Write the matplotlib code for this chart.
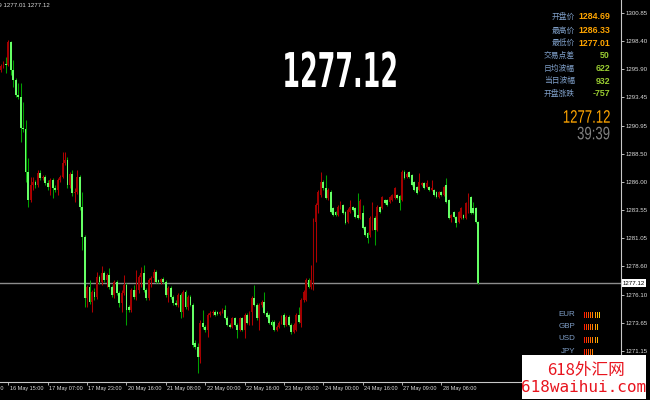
import matplotlib
matplotlib.use("Agg")
import matplotlib.pyplot as plt
from matplotlib.patheffects import AbstractPathEffect
from matplotlib.transforms import Affine2D
from matplotlib.patches import Rectangle

# ---------------- data (XAUUSD H1 candles) ----------------
O = [1295.85,1296.20,1296.38,1296.29,1298.31,1295.85,1294.97,1293.65,1293.48,1290.75,
     1290.66,1286.89,1284.43,1285.74,1286.01,1285.74,1286.80,1286.36,1286.45,1285.92,
     1285.57,1286.18,1285.48,1285.30,1286.18,1286.45,1287.68,1287.94,1285.74,1286.71,
     1285.04,1285.13,1286.45,1283.81,1281.17,1275.81,1276.78,1275.46,1276.34,1275.90,
     1277.66,1277.22,1278.01,1277.40,1277.84,1276.78,1276.08,1277.22,1276.25,1275.38,
     1276.25,1276.96,1275.02,1274.76,1276.52,1275.90,1276.52,1277.66,1278.01,1276.52,
     1275.81,1277.40,1277.57,1278.10,1277.40,1277.22,1277.48,1277.22,1276.08,1276.69,
     1275.90,1275.38,1275.20,1276.08,1274.58,1276.34,1275.02,1275.90,1275.20,1271.86,
     1271.51,1270.63,1273.62,1273.27,1273.00,1274.32,1274.50,1274.58,1274.58,1274.41,
     1274.58,1274.76,1274.06,1273.44,1273.27,1274.06,1273.44,1273.00,1274.06,1273.00,
     1274.32,1273.62,1274.58,1275.81,1275.20,1274.06,1275.20,1275.46,1274.50,1274.32,
     1273.71,1273.71,1273.00,1273.27,1273.62,1274.32,1273.44,1274.14,1273.44,1272.83,
     1273.00,1274.32,1273.62,1275.64,1275.64,1277.40,1276.78,1277.40,1282.49,1283.99,
     1284.87,1286.01,1285.48,1284.60,1285.13,1283.72,1283.37,1283.11,1283.72,1283.99,
     1283.37,1282.49,1283.37,1283.81,1283.72,1283.11,1282.84,1283.28,1282.05,1281.53,
     1281.35,1282.49,1282.84,1281.79,1283.81,1283.72,1284.43,1284.43,1284.25,1284.43,
     1284.60,1284.87,1284.78,1284.43,1286.89,1286.45,1286.89,1286.62,1286.01,1285.57,
     1285.30,1285.74,1285.92,1285.57,1285.57,1285.30,1285.30,1285.13,1284.69,1285.13,
     1284.87,1285.74,1284.43,1282.84,1283.37,1282.93,1282.49,1282.84,1283.11,1282.84,
     1283.37,1284.69,1283.72,1283.72,1282.49]
H = [1296.38,1296.64,1296.99,1298.49,1298.40,1296.73,1295.15,1294.71,1294.71,1293.04,
     1291.46,1288.12,1286.45,1286.45,1286.18,1287.06,1287.06,1286.62,1286.62,1286.18,
     1286.36,1286.36,1285.74,1286.36,1286.62,1288.64,1288.64,1288.20,1286.89,1287.06,
     1285.48,1287.06,1286.62,1285.13,1281.35,1276.96,1277.40,1276.52,1276.69,1278.10,
     1277.84,1278.63,1278.19,1278.01,1278.45,1276.96,1277.40,1277.40,1276.43,1276.52,
     1277.84,1277.13,1275.20,1276.69,1276.96,1278.28,1277.84,1278.54,1278.71,1276.69,
     1277.57,1277.75,1278.36,1278.28,1277.48,1277.57,1277.66,1277.40,1276.87,1276.87,
     1276.08,1275.64,1276.25,1276.25,1276.52,1276.52,1276.08,1276.08,1275.38,1272.12,
     1271.86,1273.88,1274.76,1273.44,1274.50,1274.67,1274.76,1274.76,1274.67,1274.67,
     1274.94,1275.20,1274.23,1273.62,1274.14,1274.14,1273.62,1274.14,1274.14,1274.50,
     1274.50,1274.67,1275.99,1276.96,1275.38,1275.38,1275.64,1276.34,1274.67,1274.50,
     1273.88,1273.88,1273.44,1273.79,1274.32,1274.50,1274.32,1274.32,1273.62,1273.62,
     1274.50,1275.02,1275.81,1276.52,1277.57,1277.57,1278.71,1282.84,1284.16,1285.30,
     1286.89,1286.18,1286.62,1285.48,1285.30,1283.81,1283.46,1283.99,1284.34,1284.07,
     1283.46,1283.72,1284.43,1283.90,1283.81,1285.04,1284.51,1283.99,1282.14,1281.61,
     1283.02,1284.25,1283.02,1283.99,1283.90,1284.78,1284.51,1284.51,1284.78,1284.95,
     1285.57,1284.95,1284.87,1287.06,1287.06,1286.89,1286.97,1286.71,1286.10,1285.66,
     1286.80,1286.01,1286.01,1286.18,1285.66,1286.18,1285.39,1285.22,1285.22,1285.22,
     1285.66,1286.36,1284.51,1283.20,1283.46,1283.02,1283.46,1283.81,1283.20,1284.25,
     1285.04,1284.78,1284.25,1283.81,1282.58]
L = [1295.67,1296.02,1295.59,1296.20,1295.41,1294.36,1293.48,1293.30,1289.52,1290.40,
     1286.01,1283.81,1284.25,1285.30,1285.48,1285.57,1286.18,1286.18,1285.74,1285.30,
     1284.87,1284.60,1285.13,1284.87,1286.01,1286.36,1287.50,1285.48,1285.48,1284.78,
     1284.25,1284.95,1283.55,1280.03,1275.02,1275.02,1275.29,1274.58,1275.64,1275.73,
     1277.04,1276.96,1277.22,1276.78,1276.61,1275.90,1275.81,1276.08,1275.02,1274.58,
     1276.08,1273.44,1274.58,1274.58,1275.73,1275.64,1276.25,1276.78,1276.34,1275.64,
     1275.64,1276.78,1277.22,1277.13,1277.13,1277.04,1277.13,1275.90,1275.46,1275.73,
     1275.20,1275.11,1275.02,1274.06,1274.14,1274.85,1274.76,1275.11,1271.51,1271.33,
     1269.22,1270.10,1273.09,1272.83,1272.39,1274.14,1274.32,1274.23,1274.32,1274.32,
     1274.50,1273.97,1273.35,1273.18,1273.18,1273.35,1272.30,1272.91,1272.91,1272.30,
     1273.53,1273.44,1273.44,1275.11,1273.88,1273.00,1275.02,1274.41,1274.06,1273.53,
     1273.35,1272.91,1272.91,1273.18,1273.53,1273.27,1273.35,1273.35,1272.65,1272.74,
     1272.91,1273.62,1273.27,1275.46,1275.55,1276.69,1276.61,1276.52,1278.98,1283.28,
     1284.69,1285.30,1284.51,1284.43,1283.28,1283.02,1283.02,1283.02,1283.63,1283.20,
     1282.32,1282.40,1283.28,1283.46,1282.84,1282.76,1282.76,1281.88,1281.26,1280.65,
     1281.17,1281.79,1280.47,1281.70,1283.28,1283.63,1284.07,1283.90,1284.16,1284.34,
     1284.51,1284.51,1283.55,1284.34,1286.27,1286.36,1286.36,1285.66,1285.22,1284.95,
     1285.22,1285.66,1285.39,1285.48,1285.22,1285.22,1284.78,1284.60,1284.60,1284.78,
     1284.78,1284.16,1282.76,1282.49,1282.84,1282.05,1282.40,1282.76,1282.76,1282.76,
     1283.28,1283.20,1283.20,1282.40,1277.01]
C = [1296.20,1296.38,1296.29,1298.31,1295.85,1294.97,1293.65,1293.48,1290.75,1290.66,
     1286.89,1284.43,1285.74,1286.01,1285.74,1286.80,1286.36,1286.45,1285.92,1285.57,
     1286.18,1285.48,1285.30,1286.18,1286.45,1287.68,1287.94,1285.74,1286.71,1285.04,
     1285.13,1286.45,1283.81,1281.17,1275.81,1276.78,1275.46,1276.34,1275.90,1277.66,
     1277.22,1278.01,1277.40,1277.84,1276.78,1276.08,1277.22,1276.25,1275.38,1276.25,
     1276.96,1274.76,1274.76,1276.52,1275.90,1276.52,1277.66,1278.01,1276.52,1275.81,
     1277.40,1277.57,1278.10,1277.22,1277.22,1277.48,1277.22,1276.08,1276.69,1275.90,
     1275.38,1275.20,1276.08,1274.58,1276.34,1275.02,1275.90,1275.20,1271.68,1271.51,
     1270.63,1273.62,1273.27,1273.00,1274.32,1274.50,1274.58,1274.32,1274.41,1274.58,
     1274.76,1274.06,1273.44,1273.27,1274.06,1273.44,1273.00,1274.06,1273.00,1274.32,
     1273.62,1274.58,1275.81,1275.20,1274.06,1275.20,1275.46,1274.50,1274.14,1273.62,
     1273.44,1273.00,1273.27,1273.62,1274.14,1273.44,1274.14,1273.44,1272.83,1273.44,
     1274.32,1273.71,1275.64,1276.34,1277.40,1276.78,1277.40,1282.49,1283.99,1285.13,
     1286.01,1285.48,1284.60,1285.30,1283.37,1283.11,1283.11,1283.81,1284.16,1283.28,
     1282.40,1283.55,1283.81,1283.55,1282.93,1282.84,1284.34,1281.97,1281.35,1281.09,
     1282.84,1283.99,1281.79,1283.81,1283.37,1284.69,1284.16,1283.99,1284.69,1284.87,
     1285.48,1284.60,1284.16,1286.89,1286.36,1286.71,1286.45,1285.74,1285.30,1285.04,
     1286.01,1285.92,1285.48,1285.92,1285.30,1285.48,1284.87,1284.69,1285.13,1284.87,
     1285.57,1284.25,1282.84,1283.11,1282.93,1282.40,1283.37,1283.72,1282.84,1284.16,
     1284.69,1283.28,1283.28,1282.49,1277.12]

price_ticks = [1300.85, 1298.40, 1295.90, 1293.45, 1290.95, 1288.50, 1286.00,
               1283.55, 1281.05, 1278.60, 1276.10, 1273.65, 1271.15]
time_tick_idx = [-13, 3, 19, 35, 51, 67, 83, 99, 115, 131, 147, 163, 179]
time_tick_labels = ["15 May 23:00", "16 May 15:00", "17 May 07:00", "17 May 23:00",
                    "20 May 16:00", "21 May 08:00", "22 May 00:00", "22 May 16:00",
                    "23 May 08:00", "24 May 00:00", "24 May 16:00", "27 May 09:00",
                    "28 May 06:00"]
last_price = 1277.12
header_text = "XAUUSD,H1  1282.49 1282.69 1277.01 1277.12"
info_labels = ["开盘价", "最高价", "最低价", "交易点差", "日均波幅", "当日波幅", "开盘涨跌"]
info_values = ["1284.69", "1286.33", "1277.01", "50", "622", "932", "-757"]
countdown = "39:39"
currencies = ["EUR", "GBP", "USD", "JPY"]
strength = [8, 7, 7, 5]

# ---------------- helpers ----------------
class HSquash(AbstractPathEffect):
    """Condense glyphs horizontally around a display x position."""
    def __init__(self, sx, x0):
        super().__init__()
        self.sx, self.x0 = sx, x0
    def draw_path(self, renderer, gc, tpath, affine, rgbFace=None):
        t = affine + Affine2D().translate(-self.x0, 0).scale(self.sx, 1).translate(self.x0, 0)
        renderer.draw_path(gc, tpath, t, rgbFace)

W, Hpx = 650, 400
def fx(px): return px / W
def fy(py): return 1 - py / Hpx

BG = "black"
UP_BODY, UP_WICK = "#a00000", "#b00000"
DN_BODY, DN_WICK = "#66ff66", "#00a000"
AXC = "#c8c8c8"
LBL = "#dcdcdc"
CJK = ["Noto Sans CJK SC", "DejaVu Sans"]
SANS = "Liberation Sans"

fig = plt.figure(figsize=(6.5, 4.0), dpi=100, facecolor=BG)
ax = fig.add_axes([0, 18 / Hpx, 621 / W, 382 / Hpx])
ax.set_facecolor(BG)
n = len(C)
ax.set_xlim(-0.407, 252.03)
ax.set_ylim(1268.43, 1302.0)

xs = list(range(n))
up = [c >= o for o, c in zip(O, C)]
ax.vlines(xs, L, H, colors=[UP_WICK if u else DN_WICK for u in up], linewidth=0.75, zorder=2)
bottoms = [min(o, c) for o, c in zip(O, C)]
heights = [max(abs(c - o), 0.06) for o, c in zip(O, C)]
ax.bar(xs, heights, bottom=bottoms, width=0.72,
       color=[UP_BODY if u else DN_BODY for u in up], linewidth=0, zorder=3)

ax.axhline(last_price, color="#8c8c8c", linewidth=1.0, zorder=1)

for s in ["top", "left"]:
    ax.spines[s].set_visible(False)
for s in ["right", "bottom"]:
    ax.spines[s].set_color(AXC)
    ax.spines[s].set_linewidth(0.8)

ax.yaxis.tick_right()
ax.set_yticks(price_ticks)
ax.set_yticklabels([f"{p:.2f}" for p in price_ticks])
ax.tick_params(axis="y", colors=LBL, labelsize=4.4, length=2.0, width=0.6, pad=1.0)
for t in ax.get_yticklabels():
    t.set_fontfamily(SANS)
ax.set_xticks(time_tick_idx[1:])
ax.set_xticklabels([])
ax.tick_params(axis="x", colors=AXC, length=2.5, width=0.6)
for k, lab in zip(time_tick_idx, time_tick_labels):
    ax.annotate(lab, xy=(k, 0), xycoords=("data", "axes fraction"),
                xytext=(1.0, -2.6), textcoords="offset points", ha="left", va="top",
                fontsize=4.0, color=LBL, family=SANS, annotation_clip=False)

ax.annotate(f"{last_price:.2f}", xy=(1, last_price), xycoords=("axes fraction", "data"),
            xytext=(1.3, 0), textcoords="offset points", ha="left", va="center",
            fontsize=4.4, color="black", family=SANS, annotation_clip=False,
            bbox=dict(boxstyle="square,pad=0.2", fc="white", ec="none"))

# header text (clipped at left edge)
fig.text(fx(50), fy(4.5), header_text, ha="right", va="center", fontsize=4.4,
         color=LBL, family=SANS)

# big price
fig.text(fx(340), fy(87), f"{last_price:.2f}", ha="center", va="baseline",
         fontsize=34.5, color="white", family="DejaVu Sans", fontweight="bold",
         path_effects=[HSquash(0.53, 340)])

# info panel
row_y = [16.7, 30.7, 43.3, 56.0, 68.7, 81.0, 94.0]
val_col = ["#ffa500"] * 3 + ["#9acd32"] * 4
for lab, val, yy, col in zip(info_labels, info_values, row_y, val_col):
    fig.text(fx(575), fy(yy), lab, ha="right", va="center", fontsize=5.6,
             color="#7f9fc8", family=CJK)
    fig.text(fx(610), fy(yy), val, ha="right", va="center", fontsize=6.3,
             color=col, family=SANS, fontweight="bold")
fig.text(fx(610), fy(122.7), f"{last_price:.2f}", ha="right", va="baseline",
         fontsize=13, color="#ffa500", family=SANS,
         path_effects=[HSquash(0.73, 610)])
fig.text(fx(610), fy(139.3), countdown, ha="right", va="baseline",
         fontsize=13, color="#808080", family=SANS,
         path_effects=[HSquash(0.73, 610)])

# currency strength panel
cy = [314, 326.5, 339, 351.5]
for cur, yy in zip(currencies, cy):
    fig.text(fx(575), fy(yy), cur, ha="right", va="center", fontsize=5.8,
             color="#7f9fc8", family=SANS)
axc = fig.add_axes([fx(583), fy(358), 22 / W, 50 / Hpx])
axc.set_xlim(-0.5, 9.5)
axc.set_ylim(357.5, 307.5)
axc.axis("off")
bar_cols = ["#ff1a00", "#ff3300", "#ff4d00", "#ff6600", "#ff8000", "#ff9900", "#ffb300", "#ffcc00"]
for cnt, yy in zip(strength, cy):
    axc.bar(range(cnt), [6] * cnt, bottom=yy - 3, width=0.5,
            color=bar_cols[:cnt], linewidth=0)

# watermark
fig.patches.append(Rectangle((fx(522), fy(399)), 124 / W, 44 / Hpx, transform=fig.transFigure,
                             facecolor="white", edgecolor="none", zorder=5))
fig.text(fx(586), fy(370), "618外汇网", ha="center", va="center", fontsize=12,
         color="#e8141e", family=CJK, zorder=6)
fig.text(fx(584), fy(387), "618waihui.com", ha="center", va="center", fontsize=11.5,
         color="#e8141e", family=["DejaVu Sans Mono"], zorder=6)

fig.savefig("out.png", dpi=100, facecolor=BG)
